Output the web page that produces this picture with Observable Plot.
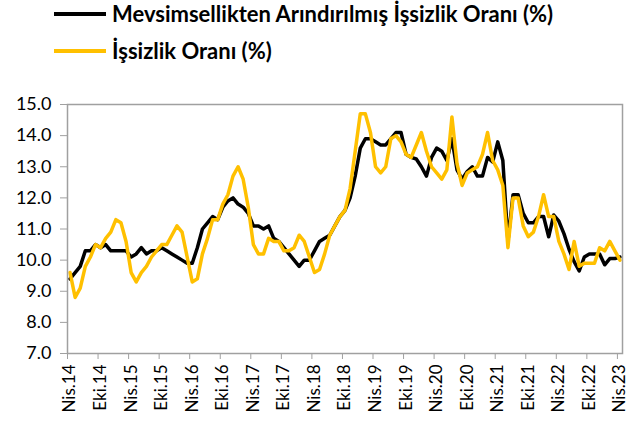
<!DOCTYPE html>
<html><head><meta charset="utf-8">
<script src="https://cdn.jsdelivr.net/npm/d3@7"></script>
<script src="https://cdn.jsdelivr.net/npm/@observablehq/plot@0.6"></script>
<style>
body{margin:0;background:#fff;font-family:Lato,"Open Sans",sans-serif;}
#legend{position:relative;height:80px;width:628px;}
.item{position:absolute;left:54px;height:26px;display:flex;align-items:center;font-weight:bold;font-size:22px;line-height:26px;color:#000;white-space:nowrap;}
.swatch{width:52px;height:3.5px;margin-right:6px;}
</style></head><body>
<div id="legend"></div>
<div id="chart"></div>
<script>
const seriesNames = ["Mevsimsellikten Arındırılmış İşsizlik Oranı (%)", "İşsizlik Oranı (%)"];
const seriesColors = ["#000000", "#FFC000"];
// Monthly, Nis.14 (Apr 2014) .. Nis.23 (Apr 2023)
const saRate = [
 9.4, 9.6, 9.8, 10.3, 10.3, 10.5, 10.4, 10.5, 10.3, 10.3, 10.3, 10.3,
 10.1, 10.2, 10.4, 10.2, 10.3, 10.3, 10.4, 10.3, 10.2, 10.1, 10.0, 9.9,
 9.9, 10.4, 11.0, 11.2, 11.4, 11.3, 11.7, 11.9, 12.0, 11.8, 11.7, 11.5,
 11.1, 11.1, 11.0, 11.1, 10.7, 10.6, 10.4, 10.2, 10.0, 9.8, 10.0, 10.0,
 10.3, 10.6, 10.7, 10.8, 11.1, 11.4, 11.6, 12.0, 12.7, 13.6, 13.9, 13.9,
 13.8, 13.7, 13.7, 13.9, 14.1, 14.1, 13.4, 13.3, 13.25, 13.0, 12.7, 13.3,
 13.6, 13.5, 13.2, 13.9, 12.9, 12.6, 12.85, 13.0, 12.7, 12.7, 13.3, 13.15,
 13.8, 13.2, 10.6, 12.1, 12.1, 11.5, 11.2, 11.2, 11.4, 11.4, 10.75, 11.45,
 11.25, 10.85, 10.35, 9.95, 9.65, 10.1, 10.2, 10.2, 10.2, 9.85, 10.05, 10.05,
 10.1
];
const rate = [
 9.6, 8.8, 9.1, 9.8, 10.1, 10.5, 10.4, 10.7, 10.9, 11.3, 11.2, 10.6,
 9.6, 9.3, 9.6, 9.8, 10.1, 10.3, 10.5, 10.5, 10.8, 11.1, 10.9, 10.1,
 9.3, 9.4, 10.2, 10.7, 11.3, 11.3, 11.8, 12.1, 12.7, 13.0, 12.6, 11.7,
 10.5, 10.2, 10.2, 10.7, 10.6, 10.6, 10.3, 10.3, 10.4, 10.8, 10.6, 10.1,
 9.6, 9.7, 10.2, 10.8, 11.1, 11.4, 11.6, 12.3, 13.5, 14.7, 14.7, 14.1,
 13.0, 12.8, 13.0, 13.9, 14.0, 13.8, 13.4, 13.3, 13.7, 14.1, 13.5, 13.0,
 12.8, 12.6, 12.9, 14.6, 13.1, 12.4, 12.8, 12.9, 13.0, 13.4, 14.1, 13.2,
 12.9, 12.4, 10.4, 12.0, 12.0, 11.1, 10.75, 10.9, 11.4, 12.1, 11.4, 11.4,
 10.6, 10.2, 9.7, 10.6, 9.8, 9.9, 9.9, 9.9, 10.4, 10.3, 10.6, 10.3,
 10.0
];
const tickLabels = ["Nis.14","Eki.14","Nis.15","Eki.15","Nis.16","Eki.16","Nis.17","Eki.17","Nis.18","Eki.18",
 "Nis.19","Eki.19","Nis.20","Eki.20","Nis.21","Eki.21","Nis.22","Eki.22","Nis.23"];
const tickEvery = 6;
const yTicks = [7, 8, 9, 10, 11, 12, 13, 14, 15];

// legend (HTML, above the SVG)
const legend = document.getElementById("legend");
seriesNames.forEach((name, k) => {
  const it = document.createElement("div");
  it.className = "item";
  it.style.top = (k === 0 ? 1 : 38) + "px";
  const sw = document.createElement("span");
  sw.className = "swatch";
  sw.style.background = seriesColors[k];
  it.appendChild(sw);
  const tx = document.createElement("span");
  tx.textContent = name;
  it.appendChild(tx);
  legend.appendChild(it);
});

const data = [];
saRate.forEach((v, i) => data.push({i, v, s: seriesNames[0]}));
rate.forEach((v, i) => data.push({i, v, s: seriesNames[1]}));
const n = Math.max(saRate.length, rate.length);
const ticks = tickLabels.map((t, k) => ({pos: k * tickEvery - 0.5, center: k * tickEvery, label: t}));

const chart = Plot.plot({
  width: 628, height: 350,
  marginLeft: 67, marginRight: 6, marginTop: 24, marginBottom: 77,
  x: {domain: [-0.5, n - 0.5], label: null},
  y: {domain: [7, 15], label: null},
  color: {domain: seriesNames, range: seriesColors},
  style: {fontFamily: "Lato, 'Open Sans', sans-serif", color: "#000", background: "#fff"},
  marks: [
    Plot.axisY({ticks: yTicks, tickFormat: d => d.toFixed(1), tickSize: 7, tickPadding: 9,
      stroke: "#a0a0a0", fill: "#000", fontSize: 18}),
    Plot.axisX({ticks: ticks.map(d => d.pos), tickSize: 6, tickFormat: () => "", stroke: "#a0a0a0"}),
    Plot.text(ticks, {x: "center", y: () => 7, text: "label", rotate: -90, textAnchor: "end",
      dy: 11, fontSize: 17, fill: "#000"}),
    Plot.lineY(data, {x: "i", y: "v", z: "s", stroke: "s", strokeWidth: 3.5, strokeLinejoin: "round"}),
    Plot.frame({stroke: "#a0a0a0", strokeWidth: 1.5})
  ]
});
document.getElementById("chart").appendChild(chart);
</script>
</body></html>
